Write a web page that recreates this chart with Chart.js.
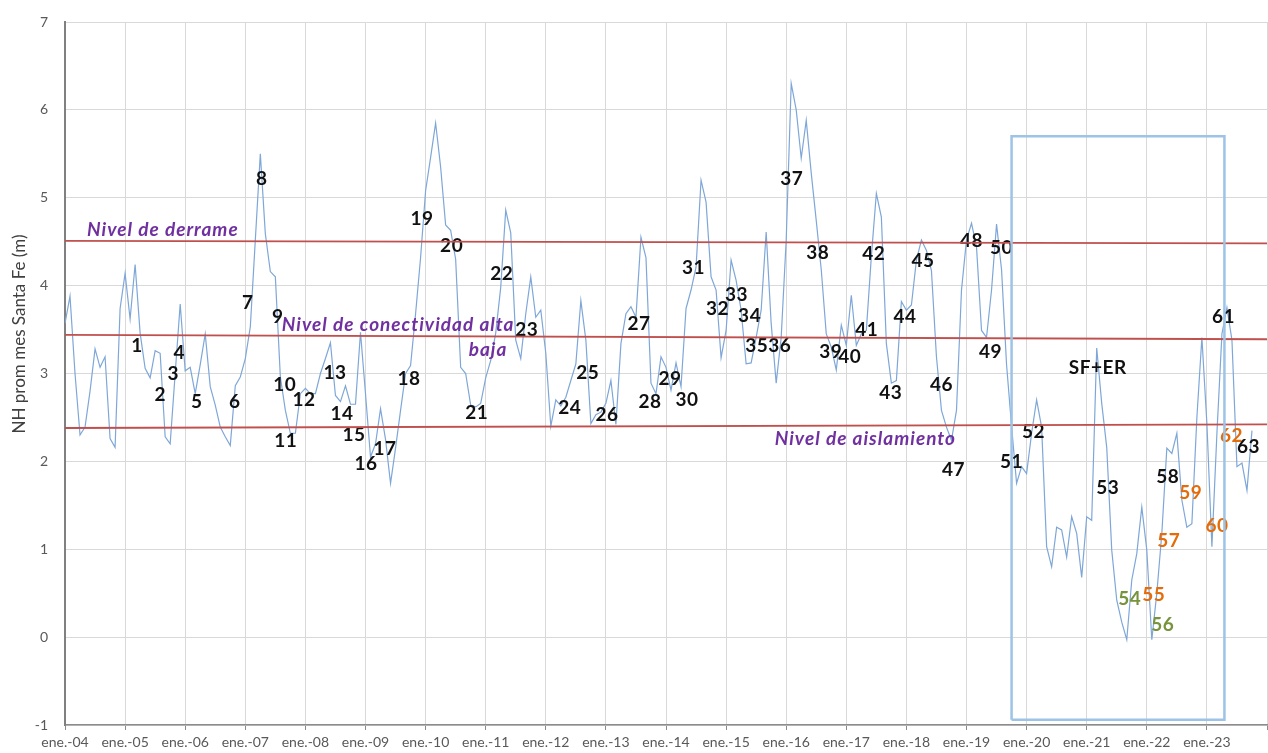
<!DOCTYPE html>
<html>
<head>
<meta charset="utf-8">
<script src="https://cdn.jsdelivr.net/npm/chart.js@4.4.1/dist/chart.umd.min.js"></script>
<style>
  html, body { margin: 0; padding: 0; background: #fff; }
</style>
</head>
<body>
<canvas id="myChart" width="1268" height="753"></canvas>
<script>
// monthly mean level, Santa Fe, from ene.-04 (one value per month)
var startYear = 2004;
var nhValues = [
    3.57, 3.88, 3.0, 2.30, 2.39, 2.8, 3.28, 3.07, 3.19, 2.26, 2.16, 3.74,
    4.14, 3.62, 4.24, 3.46, 3.06, 2.95, 3.26, 3.23, 2.28, 2.20, 3.0, 3.79,
    3.03, 3.07, 2.77, 3.1, 3.45, 2.85, 2.64, 2.39, 2.28, 2.18, 2.86, 2.96,
    3.17, 3.53, 4.52, 5.50, 4.59, 4.16, 4.10, 2.96, 2.58, 2.32, 2.32, 2.77,
    2.83, 2.77, 2.77, 3.0, 3.17, 3.35, 2.75, 2.68, 2.86, 2.65, 2.65, 3.47,
    2.77, 2.05, 2.2, 2.60, 2.25, 1.75, 2.15, 2.58, 3.0, 3.09, 3.68, 4.32,
    5.08, 5.46, 5.85, 5.35, 4.69, 4.63, 4.3, 3.07, 3.0, 2.64, 2.62, 2.66,
    2.95, 3.15, 3.46, 3.98, 4.86, 4.6, 3.38, 3.17, 3.68, 4.1, 3.64, 3.72,
    3.23, 2.40, 2.70, 2.63, 2.73, 2.92, 3.11, 3.83, 3.38, 2.43, 2.53, 2.56,
    2.66, 2.92, 2.42, 3.34, 3.68, 3.76, 3.64, 4.55, 4.32, 2.89, 2.77, 3.19,
    3.07, 2.81, 3.12, 2.85, 3.74, 3.95, 4.21, 5.2, 4.95, 4.10, 3.95, 3.18,
    3.49, 4.29, 4.06, 3.72, 3.11, 3.12, 3.41, 3.72, 4.61, 3.57, 2.89, 3.41,
    4.52, 6.30, 6.0, 5.45, 5.88, 5.28, 4.74, 4.18, 3.45, 3.3, 3.04, 3.55,
    3.32, 3.89, 3.32, 3.45, 3.49, 4.33, 5.05, 4.78, 3.34, 2.89, 2.92, 3.82,
    3.72, 3.78, 4.29, 4.52, 4.40, 4.17, 3.19, 2.58, 2.39, 2.24, 2.58, 3.95,
    4.52, 4.71, 4.44, 3.49, 3.41, 3.95, 4.70, 4.18, 3.1, 2.4, 1.75, 1.94,
    1.86, 2.32, 2.70, 2.39, 1.03, 0.80, 1.25, 1.22, 0.91, 1.37, 1.18, 0.68,
    1.37, 1.33, 3.29, 2.66, 2.16, 0.99, 0.42, 0.17, -0.03, 0.65, 0.95, 1.48,
    0.99, -0.03, 0.50, 1.18, 2.15, 2.09, 2.32, 1.56, 1.25, 1.29, 2.50, 3.41,
    2.43, 1.03, 2.32, 3.45, 3.75, 3.38, 1.94, 1.98, 1.67, 2.35
];

// reference levels (start and end of the period)
var levelMonths = [0, 240];
var derrame = [4.51, 4.48];
var conectividad = [3.44, 3.39];
var aislamiento = [2.38, 2.42];

// highlighted period (SF+ER)
var boxMonths = [189, 189, 231.5, 231.5, 189];
var boxValues = [-0.94, 5.70, 5.70, -0.94, -0.94];

// numbered events: label, month, level
var eventLabels = ['1','2','3','4','5','6','7','8','9','10','11','12','13','14','15','16','17','18','19','20',
    '21','22','23','24','25','26','27','28','29','30','31','32','33','34','35','36','37','38','39','40',
    '41','42','43','44','45','46','47','48','49','50','51','52','53','54','55','56','57','58','59','60',
    '61','62','63','SF+ER'];
var eventMonths = [14.4, 19.0, 21.6, 22.8, 26.3, 33.9, 36.5, 39.3, 42.5, 43.9, 44.1, 47.7, 53.9, 55.3, 57.7, 60.1, 63.9, 68.7, 71.3, 77.2,
    82.2, 87.2, 92.2, 100.8, 104.4, 108.2, 114.6, 116.8, 120.8, 124.2, 125.5, 130.3, 134.1, 136.7, 138.1, 142.7, 145.1, 150.3, 152.9, 156.7,
    160.1, 161.5, 164.9, 167.7, 171.3, 175.0, 177.4, 181.0, 184.8, 187.0, 189.0, 193.4, 208.2, 212.6, 217.4, 219.2, 220.4, 220.2, 224.8, 230.0,
    231.3, 232.9, 236.3, 206.2];
var eventLevels = [3.32, 2.76, 3.00, 3.24, 2.68, 2.68, 3.80, 5.22, 3.64, 2.87, 2.23, 2.70, 3.01, 2.54, 2.30, 1.97, 2.14, 2.94, 4.76, 4.45,
    2.55, 4.13, 3.50, 2.61, 3.01, 2.53, 3.57, 2.68, 2.94, 2.70, 4.20, 3.73, 3.89, 3.66, 3.32, 3.32, 5.22, 4.37, 3.25, 3.19,
    3.50, 4.36, 2.78, 3.65, 4.28, 2.87, 1.90, 4.51, 3.25, 4.43, 2.00, 2.34, 1.70, 0.44, 0.48, 0.14, 1.10, 1.82, 1.64, 1.27,
    3.65, 2.29, 2.16, 3.06];

// level captions
var levelTexts = ['Nivel de derrame', 'Nivel de conectividad alta', 'baja', 'Nivel de aislamiento'];
var levelTextMonths = [4.4, 43.3, 80.6, 141.7];
var levelTextValues = [4.64, 3.55, 3.27, 2.26];

var yTitle = 'NH prom mes Santa Fe (m)';

var greenEvents = ['54', '56'];
var orangeEvents = ['55', '57', '59', '60', '62'];

function toPoints(xs, ys) {
    return xs.map(function (x, i) { return { x: x, y: ys[i] }; });
}

var nhPoints = nhValues.map(function (v, i) { return { x: i, y: v }; });

var textPlugin = {
    id: 'eventText',
    afterDatasetDraw: function (chart, args) {
        if (args.meta.label !== 'NH') return;
        var ctx = chart.ctx;
        var xs = chart.scales.x, ys = chart.scales.y;
        ctx.save();
        ctx.textAlign = 'center';
        ctx.textBaseline = 'middle';
        ctx.font = 'bold 19px Lato';
        ctx.letterSpacing = '0.5px';
        for (var i = 0; i < eventLabels.length; i++) {
            var lab = eventLabels[i];
            ctx.fillStyle = '#111';
            if (greenEvents.indexOf(lab) >= 0) ctx.fillStyle = '#77933C';
            if (orangeEvents.indexOf(lab) >= 0) ctx.fillStyle = '#E46C0A';
            ctx.fillText(lab, xs.getPixelForValue(eventMonths[i]), ys.getPixelForValue(eventLevels[i]));
        }
        ctx.textAlign = 'left';
        ctx.font = 'italic bold 19px Lato';
        ctx.letterSpacing = '1px';
        ctx.fillStyle = '#7030A0';
        for (var j = 0; j < levelTexts.length; j++) {
            ctx.fillText(levelTexts[j], xs.getPixelForValue(levelTextMonths[j]), ys.getPixelForValue(levelTextValues[j]));
        }
        ctx.restore();
    },
    afterDraw: function (chart) {
        // axis title, sitting a little above the middle as in the original
        var ctx = chart.ctx;
        ctx.save();
        ctx.translate(20, 334);
        ctx.rotate(-Math.PI / 2);
        ctx.textAlign = 'center';
        ctx.textBaseline = 'middle';
        ctx.font = '17px Lato';
        ctx.fillStyle = '#404040';
        ctx.fillText(yTitle, 0, 0);
        ctx.restore();
    }
};

var redLine = { borderColor: '#C0504D', borderWidth: 1.8, pointRadius: 0, tension: 0, fill: false };

var ctx = document.getElementById('myChart').getContext('2d');
var myChart = new Chart(ctx, {
    type: 'line',
    data: {
        datasets: [
            { label: 'box', data: toPoints(boxMonths, boxValues), borderColor: '#9DC3E6', borderWidth: 2.5, pointRadius: 0, tension: 0, order: 0 },
            Object.assign({ label: 'derrame', data: toPoints(levelMonths, derrame), order: 1 }, redLine),
            Object.assign({ label: 'conectividad', data: toPoints(levelMonths, conectividad), order: 1 }, redLine),
            Object.assign({ label: 'aislamiento', data: toPoints(levelMonths, aislamiento), order: 1 }, redLine),
            { label: 'NH', data: nhPoints, borderColor: '#7EA7D8', borderWidth: 1.2, pointRadius: 0, tension: 0, order: 2 }
        ]
    },
    options: {
        responsive: false,
        animation: false,
        devicePixelRatio: 1,
        layout: { padding: { top: 22, right: 1, left: 0, bottom: 0 } },
        plugins: { legend: { display: false }, tooltip: { enabled: false } },
        scales: {
            x: {
                type: 'linear',
                min: 0,
                max: 240,
                afterFit: function (s) { s.height = 28; s.paddingRight = 0; s.paddingLeft = 0; },
                grid: { color: '#D9D9D9', tickColor: '#8C8C8C', tickLength: 5 },
                border: { color: '#8C8C8C', width: 1.5 },
                ticks: {
                    stepSize: 12,
                    autoSkip: false,
                    maxRotation: 0,
                    padding: 4,
                    color: '#595959',
                    font: { family: 'Lato', size: 14 },
                    callback: function (v) {
                        if (v >= 240) return '';
                        var yy = (startYear + v / 12) % 100;
                        return 'ene.-' + (yy < 10 ? '0' + yy : yy);
                    }
                }
            },
            y: {
                min: -1,
                max: 7,
                afterFit: function (s) { s.width = 65; s.paddingTop = 0; s.paddingBottom = 0; },
                grid: { color: '#D9D9D9', drawTicks: false },
                border: { color: '#808080', width: 2 },
                ticks: { stepSize: 1, padding: 17, color: '#595959', font: { family: 'Lato', size: 14 } },
                title: { display: false }
            }
        }
    },
    plugins: [textPlugin]
});
</script>
</body>
</html>
